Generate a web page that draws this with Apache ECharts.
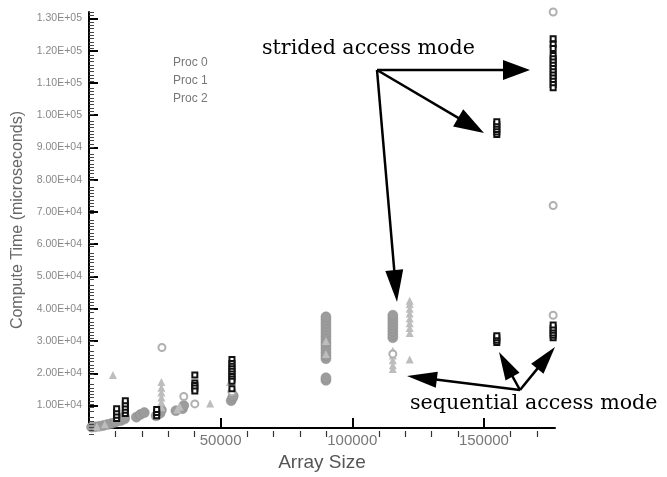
<!DOCTYPE html>
<html>
<head>
<meta charset="utf-8">
<script src="https://cdn.jsdelivr.net/npm/echarts@6/dist/echarts.min.js"></script>
<style>
  body { margin: 0; background: #fff; }
  #chart { width: 667px; height: 477px; }
</style>
</head>
<body>
<div id="chart"></div>
<script>
// tick labels
var xTicks = [50000, 100000, 150000];
var yTicks = [10000, 20000, 30000, 40000, 50000, 60000, 70000, 80000, 90000, 100000, 110000, 120000, 130000];

// Proc 0 - filled circles
var proc0 = [
  [1000, 3300], [2500, 3400], [4000, 3600], [5500, 3800], [7000, 4100], [8500, 4400],
  [10000, 4800], [12000, 5300], [13500, 5800], [13500, 6600],
  [18000, 6400], [19500, 7200], [21000, 7800], [25500, 6800], [27000, 7600], [27500, 8600],
  [33000, 8400], [35500, 9000], [36000, 10000],
  [54000, 11500], [54500, 12300], [54800, 13000],
  [90000, 17800], [90000, 18600], [90000, 24500], [90000, 25500], [90000, 26500], [90000, 27500],
  [90000, 28500], [90000, 29500], [90000, 30500], [90000, 31500], [90000, 32500], [90000, 33500],
  [90000, 34500], [90000, 35500], [90000, 36500], [90000, 37500],
  [115400, 31000], [115400, 32000], [115400, 33000], [115400, 34000], [115400, 35000],
  [115400, 36000], [115400, 37000], [115400, 38000]
];

// Proc 1 - triangles
var proc1 = [
  [9100, 19500], [3000, 3500], [6000, 4200],
  [27500, 9500], [27500, 11000], [27500, 12500], [27500, 14000], [27500, 15500], [27500, 17300],
  [33500, 8800], [34500, 9600], [46000, 10600], [53500, 17300], [54000, 15300],
  [90000, 26000], [90000, 30000],
  [115400, 21300], [115400, 22500], [115400, 24000], [115400, 25500], [115400, 27000],
  [121800, 24300], [121800, 32500], [121800, 34000], [121800, 35500], [121800, 37000],
  [121800, 38500], [121800, 40000], [121800, 41500], [121800, 42500]
];

// Proc 2 - open circles
var proc2 = [
  [27700, 28000], [36000, 12800], [40200, 10500], [54300, 14300], [115400, 26000],
  [176300, 132000], [176300, 72000], [176300, 38000]
];

// squares (strided / sequential runs)
var squares = [
  [10500, 6000], [10500, 7000], [10500, 8000], [10500, 9000],
  [13800, 7500], [13800, 8500], [13800, 9500], [13800, 10500], [13800, 11500],
  [25700, 6800], [25700, 7800], [25700, 8800],
  [40200, 19500], [40200, 17000], [40200, 16200], [40200, 15400], [40200, 14500],
  [54300, 24300], [54300, 23000], [54300, 22200], [54300, 21400], [54300, 20600],
  [54300, 19800], [54300, 19000], [54300, 18200], [54300, 17500], [54300, 15200],
  [154900, 94000], [154900, 94800], [154900, 95600], [154900, 96400], [154900, 97200], [154900, 98000],
  [154900, 29500], [154900, 30200], [154900, 31000], [154900, 31600],
  [176300, 123700], [176300, 122000], [176300, 120700], [176300, 118500], [176300, 117500],
  [176300, 116500], [176300, 115500], [176300, 114500], [176300, 113500], [176300, 112500],
  [176300, 111500], [176300, 110500], [176300, 109500], [176300, 108500],
  [176300, 31000], [176300, 31800], [176300, 32500], [176300, 33300], [176300, 34000], [176300, 35000]
];

function sci(v) {
  var e = Math.floor(Math.log10(v));
  var m = v / Math.pow(10, e);
  return m.toFixed(2) + 'E+' + (e < 10 ? '0' + e : e);
}

function arrow(x1, y1, x2, y2, hl, hw) {
  var dx = x2 - x1, dy = y2 - y1, L = Math.sqrt(dx * dx + dy * dy);
  var ux = dx / L, uy = dy / L;
  var bx = x2 - ux * hl, by = y2 - uy * hl;
  return [
    { type: 'line', shape: { x1: x1, y1: y1, x2: bx + ux * 3, y2: by + uy * 3 },
      style: { stroke: '#000', lineWidth: 2.5 } },
    { type: 'polygon', shape: { points: [[x2, y2], [bx - uy * hw, by + ux * hw], [bx + uy * hw, by - ux * hw]] },
      style: { fill: '#000' } }
  ];
}

var annot = [].concat(
  arrow(377, 70, 530, 70, 27, 10),
  arrow(377, 70, 484, 133, 30, 10),
  arrow(377, 70, 397, 302, 32, 9),
  arrow(520, 390, 407, 376, 30, 8),
  arrow(520, 390, 499, 352, 28, 8),
  arrow(520, 390, 555, 347, 28, 8)
);
annot.push({ type: 'text', left: 262, top: 38,
  style: { text: 'strided access mode', font: '20.6px "DejaVu Serif"', fill: '#000' } });
annot.push({ type: 'text', left: 410, top: 393,
  style: { text: 'sequential access mode', font: '20.6px "DejaVu Serif"', fill: '#000' } });

// minor ticks as pixel offsets from the grid: x every 10000, y every 1000
var gridL = 89, gridR = 555, gridT = 12, gridB = 437;
var xMin = 0, xMax = 177000, yMin = 3000, yMax = 132000;
for (var xv = 10000; xv <= 170000; xv += 10000) {
    if (xv % 50000 === 0) continue;
    var px = Math.round(gridL + (xv - xMin) / (xMax - xMin) * (gridR - gridL)) + 0.5;
    annot.push({ type: 'line', silent: true, z: 10, shape: { x1: px, y1: gridB, x2: px, y2: gridB - 6 },
                 style: { stroke: '#333', lineWidth: 1.2 } });
}
for (var yv = 4000; yv <= 132000; yv += 1000) {
    if (yv % 10000 === 0) continue;
    var py = Math.round(gridB - (yv - yMin) / (yMax - yMin) * (gridB - gridT)) + 0.5;
    annot.push({ type: 'line', silent: true, z: 10, shape: { x1: gridL, y1: py, x2: gridL + 5, y2: py },
                 style: { stroke: '#444', lineWidth: 1 } });
}

var myChart = echarts.init(document.getElementById('chart'));

option = {
    animation: false,
    backgroundColor: '#fff',
    textStyle: { fontFamily: 'Liberation Sans' },
    grid: { left: gridL, right: 667 - gridR, top: gridT, bottom: 477 - gridB },
    legend: {
        data: ['Proc 0', 'Proc 1', 'Proc 2'],
        orient: 'vertical',
        left: 161,
        top: 51,
        itemWidth: 1,
        itemHeight: 1,
        itemGap: 4,
        itemStyle: { opacity: 0 },
        textStyle: { color: '#777', fontSize: 12, lineHeight: 14 }
    },
    xAxis: {
        type: 'value', min: xMin, max: xMax, interval: 50000,
        name: 'Array Size', nameLocation: 'middle', nameGap: 22,
        nameTextStyle: { fontSize: 19, color: '#555' },
        axisLine: { onZero: false, lineStyle: { color: '#000', width: 2 } },
        axisTick: { inside: true, length: 10, customValues: xTicks, lineStyle: { color: '#000', width: 2 } },
        axisLabel: { customValues: xTicks, formatter: function (v) { return String(v); },
                     color: '#777', fontSize: 15, margin: 5 },
        splitLine: { show: false }
    },
    yAxis: {
        type: 'value', min: yMin, max: yMax,
        name: 'Compute Time (microseconds)', nameLocation: 'middle', nameGap: 59,
        nameTextStyle: { fontSize: 16, color: '#666' },
        axisLine: { onZero: false, lineStyle: { color: '#000', width: 2 } },
        axisTick: { inside: true, length: 9, customValues: yTicks, lineStyle: { color: '#000', width: 2 } },
        axisLabel: { customValues: yTicks, formatter: sci, color: '#888', fontSize: 10.5, margin: 7 },
        splitLine: { show: false }
    },
    series: [
        {
            name: 'Proc 0', type: 'scatter', data: proc0, symbol: 'circle', symbolSize: 10,
            clip: false,
            itemStyle: { color: '#9c9c9c', borderColor: '#8c8c8c', borderWidth: 0.5, opacity: 1 }
        },
        {
            name: 'Proc 1', type: 'scatter', data: proc1, symbol: 'triangle', symbolSize: 8,
            clip: false,
            itemStyle: { color: '#bdbdbd', opacity: 1 }
        },
        {
            name: 'Proc 2', type: 'scatter', data: proc2, symbol: 'emptyCircle', symbolSize: 7,
            clip: false,
            itemStyle: { color: '#b0b0b0', borderWidth: 1, opacity: 1 }
        },
        {
            name: 'runs', type: 'scatter', data: squares, symbol: 'emptyRect', symbolSize: 5,
            clip: false,
            itemStyle: { color: '#111', borderWidth: 1.2, opacity: 1 }
        }
    ],
    graphic: annot
};

myChart.setOption(option);
</script>
</body>
</html>
